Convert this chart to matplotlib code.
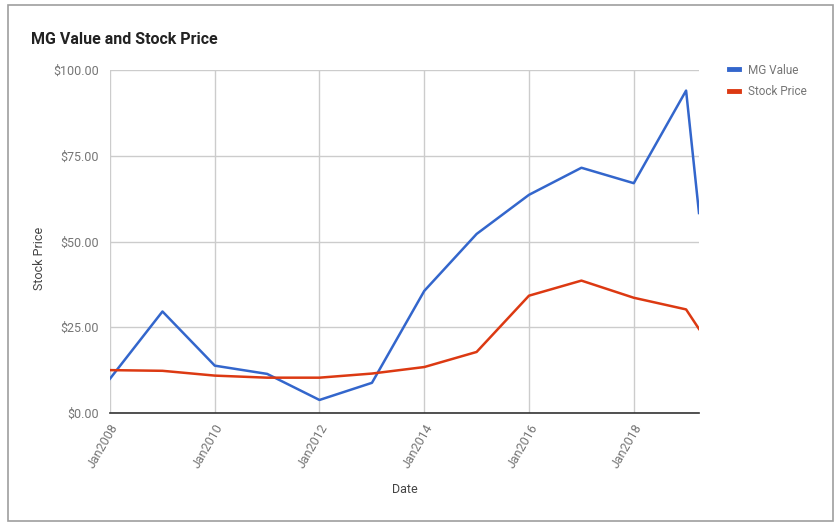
import numpy as np
import pandas as pd
import matplotlib
matplotlib.use("Agg")
import matplotlib.pyplot as plt
import matplotlib.dates as mdates
from matplotlib.patches import Rectangle

plt.rcParams['font.family'] = ['Roboto', 'DejaVu Sans']

# data
dates = ["2008-01-01", "2009-01-01", "2010-01-01", "2011-01-01", "2012-01-01",
         "2013-01-01", "2014-01-01", "2015-01-01", "2016-01-01", "2017-01-01",
         "2018-01-01", "2019-01-01", "2019-04-01"]
mg_value = [10.0, 29.6, 13.8, 11.4, 3.8, 8.8, 35.6, 52.2, 63.6, 71.5, 67.0, 94.0, 58.3]
stock_price = [12.5, 12.3, 10.9, 10.3, 10.3, 11.5, 13.4, 17.8, 34.2, 38.6, 33.6, 30.2, 24.5]
tick_years = [2008, 2010, 2012, 2014, 2016, 2018]

x = pd.to_datetime(dates)

fig = plt.figure(figsize=(8.4, 5.25), dpi=100)
ax = fig.add_axes([110/840, 112/525, 589/840, 343/525])

ax.plot(x, mg_value, color='#3366cc', lw=1.8, label='MG Value')
ax.plot(x, stock_price, color='#dc3912', lw=1.8, label='Stock Price')

ax.set_xlim(pd.Timestamp("2008-01-01"), pd.Timestamp("2019-04-01"))
ax.set_ylim(0, 100)
ax.set_yticks([0, 25, 50, 75, 100])
ax.set_yticklabels(['$%.2f' % v for v in [0, 25, 50, 75, 100]])
ticks = [pd.Timestamp("%d-01-01" % y) for y in tick_years]
ax.set_xticks(ticks)
ax.set_xticklabels(['Jan%d' % y for y in tick_years], rotation=60, ha='right',
                   rotation_mode='anchor')

ax.grid(True, color='#cccccc', lw=1)
ax.set_axisbelow(True)
for s in ['top', 'right', 'left']:
    ax.spines[s].set_visible(False)
ax.spines['bottom'].set_color('#333333')
ax.spines['bottom'].set_linewidth(1.2)
ax.spines['bottom'].set_zorder(5)
ax.tick_params(axis='both', length=0, labelsize=9, colors='#444444', labelcolor='#757575')
ax.tick_params(axis='x', pad=6)
ax.tick_params(axis='y', pad=8)

ax.set_xlabel('Date', fontsize=9, color='#444444', labelpad=9)
ax.set_ylabel('Stock Price', fontsize=9, color='#444444')
ax.yaxis.set_label_coords(-0.109, 0.45)

fig.text(31/840, 1 - 40/525, 'MG Value and Stock Price', fontsize=11.5,
         fontweight='bold', color='#222222', va='center')

ax.legend(loc='upper left', bbox_to_anchor=(718/840, 1 - 53/525),
          bbox_transform=fig.transFigure, frameon=False, fontsize=8.5,
          handlelength=0.9, handletextpad=0.7, labelspacing=0.75,
          labelcolor='#757575')
for line in ax.get_legend().get_lines():
    line.set_linewidth(3.5)

fig.patches.append(Rectangle((8/840, 4/525), 825/840, 516/525, transform=fig.transFigure,
                             fill=False, edgecolor='#9e9e9e', lw=1.2))

fig.savefig('out.png', dpi=100)
